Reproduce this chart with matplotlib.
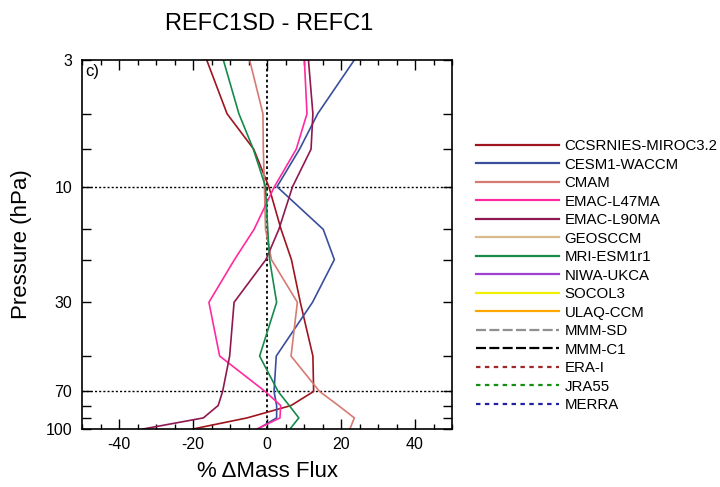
import matplotlib
matplotlib.use("Agg")
import matplotlib.pyplot as plt
from matplotlib.lines import Line2D
import numpy as np

plt.rcParams['font.family'] = ['Liberation Sans', 'DejaVu Sans']
plt.rcParams['axes.unicode_minus'] = False

# niveles de presion (hPa)
levels = [3, 5, 7, 10, 15, 20, 30, 50, 70, 80, 90, 100]

# % cambio de flujo de masa, REFC1SD - REFC1
ccsrnies = [-16.3, -10.8, -3.6, 0.5, 3.8, 6.6, 9.0, 12.4, 12.6, 6.5, -5.4, -20.0]
cesm1 = [23.6, 13.7, 8.8, 2.7, 15.2, 18.2, 12.3, 2.5, 1.9, 2.6, 2.6, -2.5]
cmam = [-4.7, -1.1, -1.0, -0.7, -0.4, 1.2, 8.2, 6.5, 14.2, 19.3, 23.6, 22.4]
emac_l47 = [10.1, 10.8, 7.9, 2.0, -3.5, -8.8, -15.7, -12.8, -0.5, 3.7, 3.5, -2.7]
emac_l90 = [11.2, 12.4, 11.9, 6.9, 3.2, -0.3, -8.9, -10.1, -12.0, -13.2, -17.2, -33.5]
mri = [-11.8, -7.6, -3.7, -0.4, 0.2, 0.7, 2.6, -2.0, 3.0, 6.0, 8.6, 6.2]

# nombres y estilos de la leyenda
names = ['CCSRNIES-MIROC3.2', 'CESM1-WACCM', 'CMAM', 'EMAC-L47MA', 'EMAC-L90MA',
         'GEOSCCM', 'MRI-ESM1r1', 'NIWA-UKCA', 'SOCOL3', 'ULAQ-CCM',
         'MMM-SD', 'MMM-C1', 'ERA-I', 'JRA55', 'MERRA']
colors = ['#a0141e', '#3a4f9c', '#d77a72', '#ff2aa0', '#901850',
          '#d9bb8c', '#158a4a', '#a040d0', '#f0f000', '#ffa500',
          '#909090', '#000000', '#a02828', '#129012', '#2020a0']
styles = ['-'] * 10 + [(0, (4.5, 1.5))] * 2 + [(0, (2, 2))] * 3

series = {'CCSRNIES-MIROC3.2': ccsrnies, 'CESM1-WACCM': cesm1, 'CMAM': cmam,
          'EMAC-L47MA': emac_l47, 'EMAC-L90MA': emac_l90, 'MRI-ESM1r1': mri}

fig = plt.figure(figsize=(7.2, 4.87), dpi=100)
ax = fig.add_axes([0.1139, 0.1191, 0.5139, 0.7577])

# lineas de referencia
ax.axhline(10, color='black', linestyle=(0, (1.5, 1.5)), linewidth=1.0, zorder=1)
ax.axhline(70, color='black', linestyle=(0, (1.5, 1.5)), linewidth=1.0, zorder=1)
ax.axvline(0, color='black', linestyle=(0, (1.5, 1.5)), linewidth=1.3, zorder=1)

for name, color in zip(names, colors):
    if name in series:
        ax.plot(series[name], levels, color=color, linewidth=1.2, zorder=2)

ax.set_yscale('log')
ax.set_ylim(100, 3)
ax.set_xlim(-50, 50)

ylabels = ['3', '', '', '10', '', '', '30', '', '70', '', '', '100']
ax.set_yticks(levels)
ax.set_yticklabels(ylabels)
ax.yaxis.set_minor_locator(matplotlib.ticker.NullLocator())

ax.set_xticks([-40, -20, 0, 20, 40])
ax.set_xticks(np.arange(-50, 51, 5), minor=True)

ax.tick_params(axis='both', which='both', direction='in', top=True, right=True,
               labelsize=11.5, width=1.0)
ax.tick_params(axis='x', which='major', length=7, pad=6)
ax.tick_params(axis='x', which='minor', length=3.5)
ax.tick_params(axis='y', which='major', length=6.5, pad=7)
for s in ax.spines.values():
    s.set_linewidth(1.2)

ax.set_xlabel('% \u0394Mass Flux', fontsize=16, labelpad=6)
ax.set_ylabel('Pressure (hPa)', fontsize=16, labelpad=10)

ax.text(0.008, 0.99, 'c)', transform=ax.transAxes, ha='left', va='top', fontsize=12)

fig.text(269 / 720, 1 - 24 / 487, 'REFC1SD - REFC1', ha='center', va='center', fontsize=17)

handles = [Line2D([], [], color=c, linestyle=st, linewidth=1.6) for c, st in zip(colors, styles)]
fig.legend(handles, names, loc='upper left', bbox_to_anchor=(476 / 720, 1 - 139 / 487),
           frameon=False, fontsize=10.8, handlelength=5.5, handletextpad=0.4,
           labelspacing=0.30, borderaxespad=0, borderpad=0)

fig.savefig('out.png', dpi=100)
